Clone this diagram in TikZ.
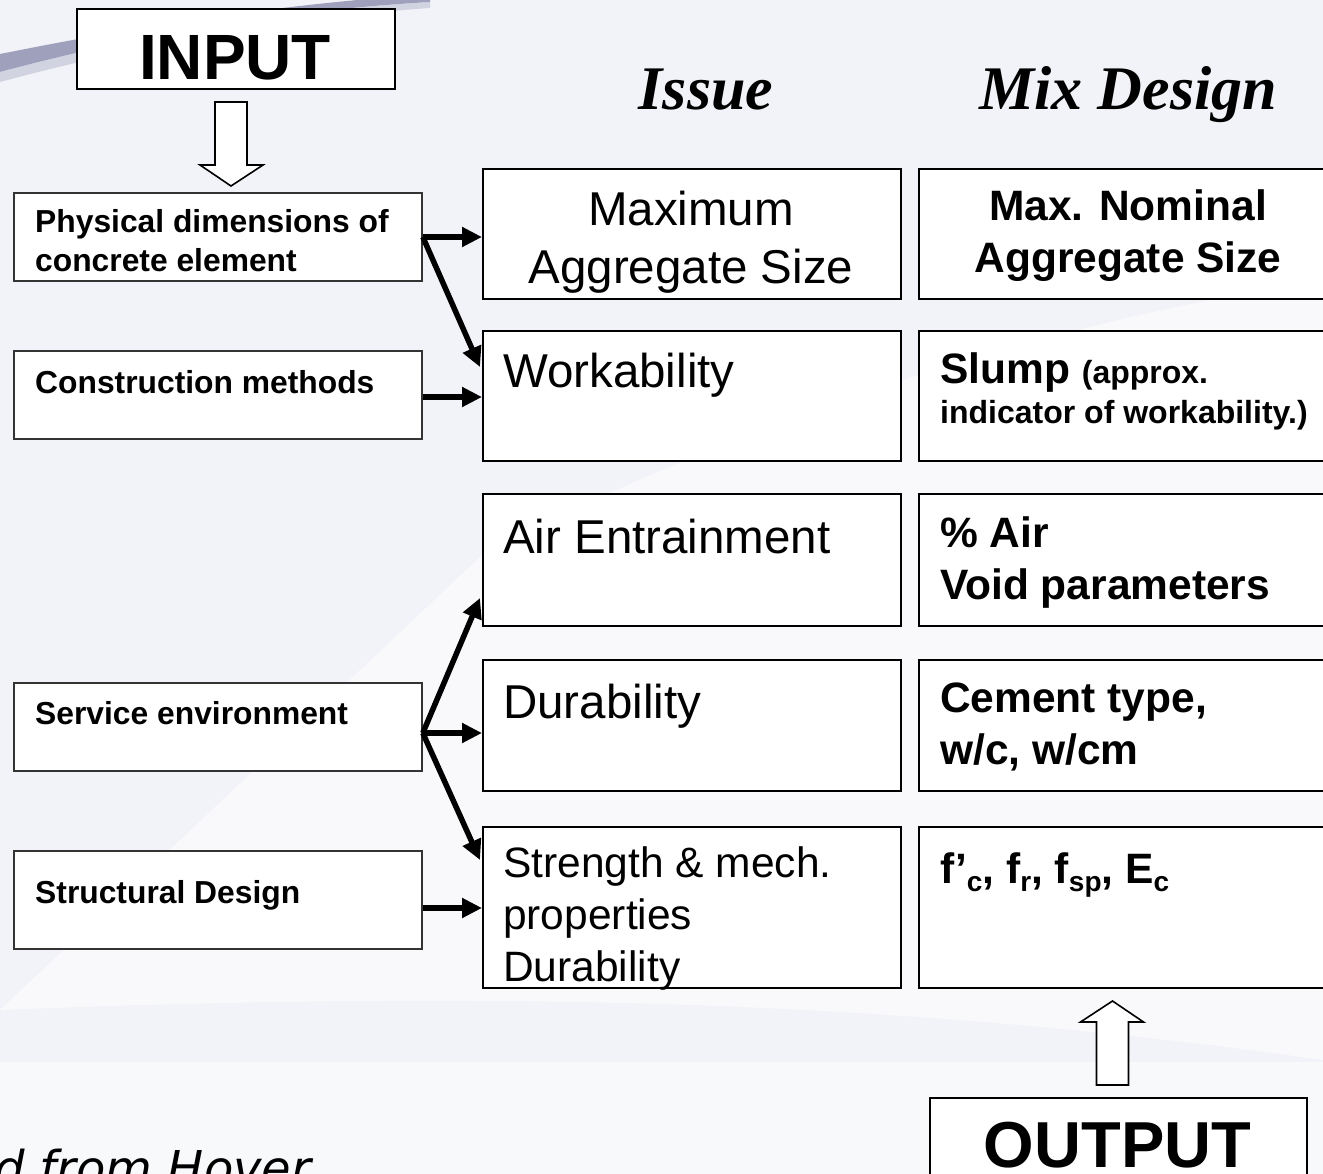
\documentclass[tikz,border=0pt]{standalone}
\usepackage{fontspec}
\setmainfont{Liberation Sans}
\newfontfamily\headfont{Liberation Serif}
\newfontfamily\notefont{DejaVu Sans}
\usetikzlibrary{arrows.meta,calc}
\definecolor{bgc}{HTML}{F2F3F8}
\definecolor{swoosh}{HTML}{9193B2}
\tikzset{
  leftbox/.style={draw=black!80, line width=1.8pt, fill=white, inner sep=0pt, anchor=north west, minimum width=408pt, minimum height=88pt},
  midbox/.style={draw=black, line width=2pt, fill=white, inner sep=0pt, anchor=north west, minimum width=418pt},
  rightbox/.style={draw=black, line width=2pt, fill=white, inner sep=0pt, anchor=north west, minimum width=422pt},
  bigbox/.style={draw=black, line width=2pt, fill=white, inner sep=0pt, anchor=north west},
  txt/.style={inner sep=0pt, anchor=base west},
  ctxt/.style={inner sep=0pt, anchor=base},
  conn/.style={line width=5.5pt, -{Triangle[length=20pt,width=19pt]}},
  hollow/.style={draw=black, line width=1.6pt, fill=white, line join=miter},
  fL/.style={font=\fontsize{31.8}{38}\selectfont\bfseries},
  fM/.style={font=\fontsize{47.5}{57}\selectfont},
  fS/.style={font=\fontsize{42.5}{51}\selectfont},
  fR/.style={font=\fontsize{42.5}{51}\selectfont\bfseries},
  fRs/.style={font=\fontsize{32}{38}\selectfont\bfseries},
  fBig/.style={font=\fontsize{64}{76}\selectfont\bfseries},
  fHead/.style={font=\fontsize{62}{74}\selectfont\headfont\bfseries\itshape},
}
\newcommand{\sbx}[1]{\raisebox{-8pt}{\fontsize{28}{28}\selectfont #1}}
\begin{document}
\begin{tikzpicture}[x=1pt,y=-1pt]
\useasboundingbox (0,0) rectangle (1323,1174);
\clip (0,0) rectangle (1323,1174);
% background
\fill[bgc] (0,0) rectangle (1323,1174);
\fill[white, opacity=0.55] (0,1010) -- (480,557) .. controls (700,440) and (1000,330) .. (1323,280) -- (1323,1060) .. controls (900,1000) and (500,990) .. (0,1010) -- cycle;
\fill[white, opacity=0.5] (0,1062) rectangle (1323,1174);
\fill[swoosh, opacity=0.85] (0,54) .. controls (120,30) and (260,6) .. (430,-6) -- (430,2) .. controls (260,12) and (120,40) .. (0,72) -- cycle;
\fill[swoosh!60!white, opacity=0.6] (0,72) .. controls (120,40) and (260,12) .. (430,2) -- (430,8) .. controls (260,20) and (120,50) .. (0,82) -- cycle;

% top boxes and headers
\node[bigbox, minimum width=318pt, minimum height=80pt] (input) at (76,8) {};
\node[ctxt, fBig] (inputT) at (235,80) {INPUT};
\node[ctxt, fHead] (issue) at (706,110) {Issue};
\node[ctxt, fHead] (mix) at (1128,110) {Mix Design};

% left column
\node[leftbox] (phys) at (13,192) {};
\node[txt, fL] (physT1) at (35,233) {Physical dimensions of};
\node[txt, fL] (physT2) at (35,272) {concrete element};
\node[leftbox] (cons) at (13,350) {};
\node[txt, fL] (consT) at (35,393) {Construction methods};
\node[leftbox] (serv) at (13,682) {};
\node[txt, fL] (servT) at (35,724) {Service environment};
\node[leftbox, minimum height=98pt] (stru) at (13,850) {};
\node[txt, fL] (struT) at (35,903) {Structural Design};

% middle column
\node[midbox, minimum height=130pt] (maxb) at (482,168) {};
\node[ctxt, fM] (maxT1) at (691,226) {Maximum};
\node[ctxt, fM] (maxT2) at (691,284) {Aggregate Size};
\node[midbox, minimum height=130pt] (work) at (482,330) {};
\node[txt, fM] (workT) at (503,388) {Workability};
\node[midbox, minimum height=132pt] (air) at (482,493) {};
\node[txt, fM] (airT) at (503,553) {Air Entrainment};
\node[midbox, minimum height=131pt] (dur) at (482,659) {};
\node[txt, fM] (durT) at (503,718) {Durability};
\node[midbox, minimum height=161pt] (str) at (482,826) {};
\node[txt, fS] (strT1) at (503,877) {Strength \& mech.};
\node[txt, fS] (strT2) at (503,929) {properties};
\node[txt, fS] (strT3) at (503,981) {Durability};

% right column
\node[rightbox, minimum height=130pt] (nom) at (918,168) {};
\node[ctxt, fR] (nomT1) at (1128,221) {Max. Nominal};
\node[ctxt, fR] (nomT2) at (1128,273) {Aggregate Size};
\node[rightbox, minimum height=130pt] (slump) at (918,330) {};
\node[txt, fR] (slumpT1) at (940,384) {Slump {\fontsize{32}{38}\selectfont (approx.}};
\node[txt, fRs] (slumpT2) at (940,423) {indicator of workability.)};
\node[rightbox, minimum height=132pt] (pair) at (918,493) {};
\node[txt, fR] (pairT1) at (940,547) {\% Air};
\node[txt, fR] (pairT2) at (940,599) {Void parameters};
\node[rightbox, minimum height=131pt] (cem) at (918,659) {};
\node[txt, fR] (cemT1) at (940,712) {Cement type,};
\node[txt, fR] (cemT2) at (940,764) {w/c, w/cm};
\node[rightbox, minimum height=161pt] (fc) at (918,826) {};
\node[txt, fR] (fcT) at (940,883) {f’\sbx{c}, f\sbx{r}, f\sbx{sp}, E\sbx{c}};

% output
\node[bigbox, minimum width=377pt, minimum height=100pt] (outb) at (929,1097) {};
\node[ctxt, font=\fontsize{65}{78}\selectfont\bfseries] (outT) at (1117.5,1167) {OUTPUT};

% note
\node[txt, font=\fontsize{48}{56}\selectfont\notefont\itshape] (note) at (-6,1185) {d from Hover};

% hollow arrows
\coordinate (ia) at ($(input.south)+(-5,12)$);
\begin{scope}[shift={(ia)}]
\draw[hollow] (-16,0) -- (16,0) -- (16,63) -- (32,63) -- (0,84) -- (-31,63) -- (-16,63) -- cycle;
\end{scope}
\coordinate (ot) at ($(outb.north)+(-6,-96)$);
\begin{scope}[shift={(ot)}]
\draw[hollow] (0,0) -- (31,21) -- (16,21) -- (16,84) -- (-16,84) -- (-16,21) -- (-32,21) -- cycle;
\end{scope}

% connectors
\coordinate (physO) at ($(phys.north east)+(0,45)$);
\coordinate (consO) at ($(cons.north east)+(0,47)$);
\coordinate (servO) at ($(serv.north east)+(0,51)$);
\coordinate (struO) at ($(stru.north east)+(0,58)$);
\draw[conn] (physO) -- ($(maxb.north west)+(0,69)$);
\draw[conn] (physO) -- ($(work.north west)+(-2,37)$);
\draw[conn] (consO) -- ($(work.north west)+(0,67)$);
\draw[conn] (servO) -- ($(air.north west)+(-2,105)$);
\draw[conn] (servO) -- ($(dur.north west)+(0,74)$);
\draw[conn] (servO) -- ($(str.north west)+(-2,34)$);
\draw[conn] (struO) -- ($(str.north west)+(0,82)$);
\end{tikzpicture}
\end{document}
